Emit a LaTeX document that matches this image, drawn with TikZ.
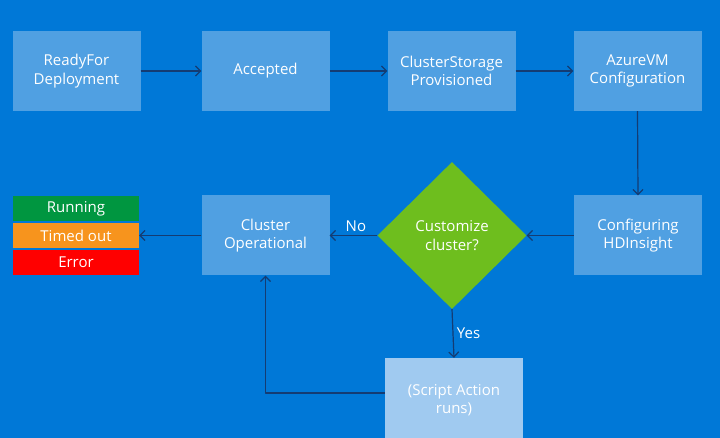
\documentclass[tikz,border=0pt]{standalone}
\usepackage{fontspec}
\setmainfont{Open Sans}
\usetikzlibrary{positioning,shapes.geometric,arrows.meta}
\definecolor{azbg}{RGB}{0,120,215}
\definecolor{azbox}{RGB}{80,160,226}
\definecolor{azlight}{RGB}{160,202,240}
\definecolor{azgreen}{RGB}{110,190,30}
\definecolor{azline}{RGB}{20,60,115}
\definecolor{stgreen}{RGB}{0,150,64}
\definecolor{storange}{RGB}{247,148,29}
\definecolor{stred}{RGB}{255,0,0}
\tikzset{
	stage/.style={fill=azbox, text=white, minimum width=128pt, minimum height=80pt, align=center, inner sep=2pt},
	status/.style={minimum width=126pt, minimum height=25pt, text=white, inner sep=0pt},
	flow/.style={->, draw=azline, line width=1.2pt}
}
\begin{document}
\begin{tikzpicture}[x=1pt,y=-1pt,>={Straight Barb[length=5pt,width=10pt]}, font=\fontsize{15}{18.5}\selectfont, line join=round]
	\def\rowa{71} \def\rowb{235.5} % Zeilen
	\fill[azbg] (0,0) rectangle (720,438);
	\useasboundingbox (0,0) rectangle (720,438);
	% obere Reihe
	\node[stage] (rfd) at (76.5,\rowa) {ReadyFor\\Deployment};
	\node[stage] (acc) at (265.5,\rowa) {Accepted};
	\node[stage] (csp) at (451.5,\rowa) {ClusterStorage\\Provisioned};
	\node[stage] (avm) at (637.5,\rowa) {AzureVM\\Configuration};
	% untere Reihe
	\node[stage] (cfg) at (638,\rowb) {Configuring\\HDInsight};
	\node[diamond, fill=azgreen, text=white, minimum width=149pt, minimum height=147pt, inner sep=0pt, align=center] (cust) at (452,\rowb) {Customize\\cluster?};
	\node[stage] (cop) at (265.5,\rowb) {Cluster\\Operational};
	\node[stage, fill=azlight, minimum width=138pt, minimum height=84pt] (sa) at (454,400) {(Script Action\\runs)};
	% Status
	\node[status, fill=storange] (tmo) at (76,\rowb) {Timed out};
	\node[status, fill=stgreen, above=1.5pt of tmo] (run) {Running};
	\node[status, fill=stred, below=1.5pt of tmo] (err) {Error};
	% Pfeile
	\draw[flow] (rfd) -- (acc);
	\draw[flow] (acc) -- (csp);
	\draw[flow] (csp) -- (avm);
	\draw[flow] (avm.south) -- (cfg.north);
	\draw[flow] (cfg.west) -- (cust.east);
	\draw[flow] (cust.west) -- node[above, text=white, pos=0.45]{No} (cop.east);
	\draw[flow] (cop.west) -- (tmo.east);
	\draw[flow] (cust.south) -- node[right, text=white]{Yes} (sa.north);
	\draw[flow] ([yshift=7pt]sa.west) -| (cop.south);
\end{tikzpicture}
\end{document}
